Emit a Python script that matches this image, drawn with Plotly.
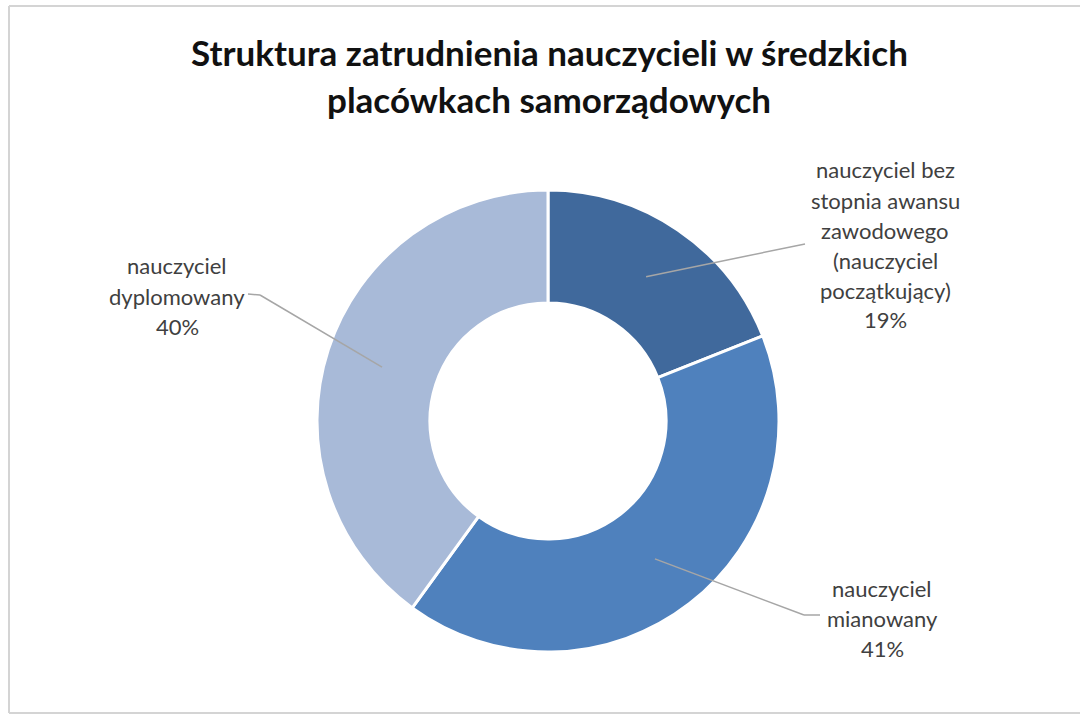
import math
import plotly.graph_objects as go

# ---- data ----
categories = [
    "nauczyciel bez stopnia awansu zawodowego (nauczyciel początkujący)",
    "nauczyciel mianowany",
    "nauczyciel dyplomowany",
]
shares = [19, 41, 40]
label_lines = [
    ["nauczyciel bez", "stopnia awansu", "zawodowego", "(nauczyciel", "początkujący)"],
    ["nauczyciel", "mianowany"],
    ["nauczyciel", "dyplomowany"],
]
colors = ["#40699C", "#4F81BD", "#A8BAD8"]
title_lines = ["Struktura zatrudnienia nauczycieli w średzkich", "placówkach samorządowych"]

W, H = 1080, 718
CX, CY, R_OUT, R_IN = 548, 421, 231, 118

def px(x):
    return x / W

def py(y):
    return 1 - y / H

fig = go.Figure()
fig.add_trace(go.Pie(
    labels=categories,
    values=shares,
    hole=R_IN / R_OUT,
    sort=False,
    direction="clockwise",
    rotation=0,
    marker=dict(colors=colors, line=dict(color="white", width=3)),
    textinfo="none",
    hoverinfo="label+percent",
    showlegend=False,
    domain=dict(x=[px(CX - R_OUT), px(CX + R_OUT)], y=[py(CY + R_OUT), py(CY - R_OUT)]),
))

# label layout (pixel anchors for text blocks and leader ends)
label_pos = [
    dict(cx=885, top=170, end=(805, 244), elbow=None),
    dict(cx=882, top=588, end=(804, 615), elbow=(820, 615)),
    dict(cx=177, top=266, end=(260, 295), elbow=(248, 294)),
]
LINE_H = 30
font_lbl = dict(family="Lato, Calibri, sans-serif", size=22, color="#404040")

shapes = []
annotations = []
total = sum(shares)
cum = 0
r_mid = (R_OUT + R_IN) / 2
for i, v in enumerate(shares):
    mid = (cum + v / 2) / total * 2 * math.pi
    cum += v
    sx = CX + r_mid * math.sin(mid)
    sy = CY - r_mid * math.cos(mid)
    lp = label_pos[i]
    ex, ey = lp["end"]
    line_style = dict(color="#A6A6A6", width=1.5)
    shapes.append(dict(type="line", xref="paper", yref="paper",
                       x0=px(sx), y0=py(sy), x1=px(ex), y1=py(ey), line=line_style))
    if lp["elbow"]:
        bx, by = lp["elbow"]
        shapes.append(dict(type="line", xref="paper", yref="paper",
                           x0=px(ex), y0=py(ey), x1=px(bx), y1=py(by), line=line_style))
    lines = label_lines[i] + [f"{v}%"]
    for j, t in enumerate(lines):
        annotations.append(dict(text=t, xref="paper", yref="paper",
                                x=px(lp["cx"]), y=py(lp["top"] + j * LINE_H),
                                xanchor="center", yanchor="middle", showarrow=False,
                                font=font_lbl))

for j, t in enumerate(title_lines):
    annotations.append(dict(text=f"<b>{t}</b>", xref="paper", yref="paper",
                            x=px(549), y=py(52 + j * 47), xanchor="center", yanchor="middle",
                            showarrow=False,
                            font=dict(family="Lato, Calibri, sans-serif", size=35, color="#111111")))

# chart frame (top, left, bottom edges; right edge lies outside the picture)
frame = dict(color="#D4D4D4", width=2)
for (x0, y0, x1, y1) in [(9, 6, 1080, 6), (9, 6, 9, 713), (9, 713, 1080, 713)]:
    shapes.append(dict(type="line", xref="paper", yref="paper",
                       x0=px(x0), y0=py(y0), x1=px(x1), y1=py(y1),
                       line=frame, layer="below"))

fig.update_layout(
    width=W, height=H,
    margin=dict(l=0, r=0, t=0, b=0),
    paper_bgcolor="white",
    plot_bgcolor="white",
    shapes=shapes,
    annotations=annotations,
)

fig.write_html("out.html",
               config={"displayModeBar": False},
               post_script="document.body.style.margin='0';document.body.style.overflow='hidden';")
